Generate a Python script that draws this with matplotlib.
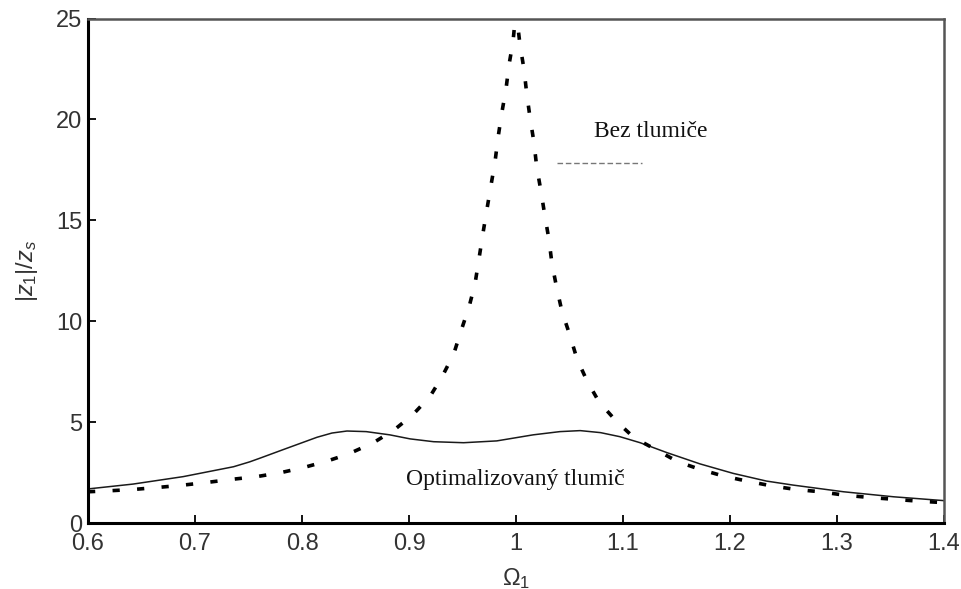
import matplotlib
matplotlib.use("Agg")
import matplotlib.pyplot as plt

# Frequency response: amplitude ratio |z1|/zs versus frequency ratio Omega_1
omega_undamped = [0.600, 0.6206, 0.6439, 0.6667, 0.689, 0.7124, 0.7352, 0.7577, 0.7804,
                  0.8022, 0.824, 0.8433, 0.8667, 0.886, 0.9034, 0.9196, 0.9308, 0.9418,
                  0.9486, 0.9561, 0.9617, 0.9654, 0.9689, 0.9726, 0.9764, 0.9804, 0.9832,
                  0.9866, 0.9907, 0.9935, 0.9972, 1.000, 1.0037, 1.0075, 1.010, 1.0131,
                  1.0168, 1.0193, 1.0234, 1.0268, 1.0308, 1.0336, 1.038, 1.043, 1.0502,
                  1.057, 1.0664, 1.0776, 1.0935, 1.1103, 1.1324, 1.1511, 1.172, 1.1937,
                  1.2156, 1.2389, 1.2607, 1.2841, 1.3059, 1.3293, 1.3526, 1.3745, 1.400]
ratio_undamped = [1.55, 1.60, 1.67, 1.77, 1.88, 2.02, 2.17, 2.30, 2.50,
                  2.76, 3.08, 3.42, 3.98, 4.61, 5.36, 6.27, 7.24, 8.38,
                  9.52, 10.71, 11.86, 13.10, 14.29, 15.48, 16.67, 17.91, 19.10,
                  20.29, 21.53, 22.72, 23.86, 25.4, 23.71, 22.47, 21.28, 20.09,
                  18.85, 17.66, 16.42, 15.28, 14.04, 12.85, 11.66, 10.47, 9.33,
                  8.13, 7.04, 6.00, 5.06, 4.23, 3.59, 3.04, 2.66, 2.33,
                  2.08, 1.84, 1.67, 1.55, 1.39, 1.27, 1.18, 1.09, 1.01]

omega_optimal = [0.600, 0.642, 0.689, 0.736, 0.751, 0.761, 0.783, 0.814, 0.828, 0.842,
                 0.860, 0.882, 0.901, 0.923, 0.951, 0.982, 1.016, 1.041, 1.060, 1.079,
                 1.097, 1.116, 1.141, 1.172, 1.203, 1.234, 1.259, 1.306, 1.353, 1.400]
ratio_optimal = [1.69, 1.93, 2.30, 2.79, 3.03, 3.22, 3.65, 4.25, 4.46, 4.56,
                 4.53, 4.37, 4.17, 4.03, 3.98, 4.07, 4.37, 4.53, 4.58, 4.48,
                 4.28, 3.98, 3.49, 2.93, 2.46, 2.08, 1.88, 1.55, 1.30, 1.11]

x_ticks = [0.6, 0.7, 0.8, 0.9, 1.0, 1.1, 1.2, 1.3, 1.4]
x_tick_labels = ["0.6", "0.7", "0.8", "0.9", "1", "1.1", "1.2", "1.3", "1.4"]
y_ticks = [0, 5, 10, 15, 20, 25]

label_undamped = "Bez tlumiče"
label_optimal = "Optimalizovaný tlumič"

plt.rcParams["font.family"] = ["Liberation Sans", "DejaVu Sans"]
plt.rcParams["mathtext.fontset"] = "custom"
plt.rcParams["mathtext.rm"] = "Liberation Sans"
plt.rcParams["mathtext.it"] = "Liberation Sans:italic"

fig = plt.figure(figsize=(9.62, 5.89), dpi=100)
ax = fig.add_axes([0.0915, 0.112, 0.8898, 0.8565])

ax.plot(omega_undamped, ratio_undamped, color="black", lw=2.6,
        linestyle=(0, (2.0, 4.8)), dash_capstyle="butt", zorder=3)
ax.plot(omega_optimal, ratio_optimal, color="#1a1a1a", lw=1.1, zorder=2)

ax.set_xlim(0.6, 1.4)
ax.set_ylim(0, 25)
ax.set_xticks(x_ticks)
ax.set_xticklabels(x_tick_labels)
ax.set_yticks(y_ticks)
ax.tick_params(direction="in", length=6, width=1.3, labelsize=17, pad=4,
               colors="black", labelcolor="#333333")
ax.tick_params(axis="x", pad=7)

for side in ("left", "bottom"):
    ax.spines[side].set_linewidth(2.2)
    ax.spines[side].set_color("black")
for side in ("top", "right"):
    ax.spines[side].set_linewidth(1.8)
    ax.spines[side].set_color("#555555")

ax.set_xlabel(r"$\Omega_1$", fontsize=17, color="#333333", labelpad=8)
ax.set_ylabel(r"$|z_1|/z_s$", fontsize=17, color="#333333", labelpad=12)

ax.text(1.126, 19.4, label_undamped, ha="center", va="center", fontsize=17,
        family=["Liberation Serif", "DejaVu Serif"], color="#111111")
ax.text(0.999, 2.18, label_optimal, ha="center", va="center", fontsize=17,
        family=["Liberation Serif", "DejaVu Serif"], color="#111111")
ax.plot([0.548, 0.647], [0.714, 0.714], transform=ax.transAxes, color="#777777",
        lw=1.0, linestyle=(0, (4, 2)))

fig.savefig("out.png", dpi=100, facecolor="white")
